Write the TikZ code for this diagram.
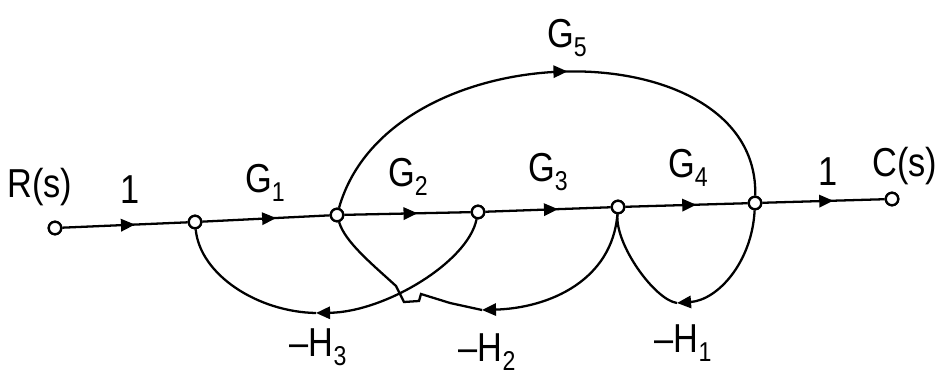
\documentclass[tikz,border=0pt]{standalone}
\usepackage{fontspec}
\setmainfont{Liberation Sans}
\usetikzlibrary{arrows.meta,decorations.markings}
\newcommand{\sbs}[1]{\raisebox{-5pt}{\fontsize{15.5}{16}\selectfont #1}}
\tikzset{
  sfnode/.style={circle,draw,line width=1.3pt,fill=white,inner sep=0pt,minimum size=0.25cm},
  lbl/.style={font=\fontsize{23}{26}\selectfont, xscale=0.85, inner sep=0pt},
  br/.style={line width=1.3pt},
  midarr/.style={br, postaction={decorate}, decoration={markings, mark=at position #1 with {\arrow{Triangle[length=8pt,width=7pt]}}}},
  midarr/.default=0.58,
  endarr/.style={br, -{Triangle[length=8pt,width=7pt]}},
}
\begin{document}
\begin{tikzpicture}[x=0.02cm,y=-0.02cm]
\useasboundingbox (0,0) rectangle (936,385);
% nodes
\node[sfnode] (r)  at (55,228) {};
\node[sfnode] (n2) at (195,222) {};
\node[sfnode] (n3) at (337,215) {};
\node[sfnode] (n4) at (478,212) {};
\node[sfnode] (n5) at (618,207) {};
\node[sfnode] (n6) at (755,203) {};
\node[sfnode] (c)  at (892,199) {};
% helper coordinates
\coordinate (a1) at (677,303);
\coordinate (a2) at (482,310);
\coordinate (a3) at (316,313);
\coordinate (h1) at (450,303);
\coordinate (h2) at (421,294);
\coordinate (h3) at (419,301);
\coordinate (h4) at (404,302);
\coordinate (h5) at (396,286);
% forward branches
\draw[midarr] (r) -- (n2);
\draw[midarr] (n2) -- (n3);
\draw[midarr] (n3) -- (n4);
\draw[midarr] (n4) -- (n5);
\draw[midarr] (n5) -- (n6);
\draw[midarr] (n6) -- (c);
% G5
\draw[midarr=0.53] (n3) .. controls (390,28) and (760,28) .. (n6);
% H1
\draw[endarr] (n6) .. controls (752,262) and (718,300) .. (a1);
\draw[br] (a1) .. controls (655,300) and (615,245) .. (n5);
% H3
\draw[endarr] (n4) .. controls (468,262) and (385,312) .. (a3);
\draw[br] (a3) .. controls (258,312) and (200,275) .. (n2);
% H2
\draw[endarr] (n5) .. controls (612,280) and (550,308) .. (a2);
\draw[br] (a2) -- (h1) -- (h2) -- (h3) -- (h4) -- (h5) .. controls (372,264) and (345,242) .. (n3);
% redraw nodes on top
\foreach \n in {r,n2,n3,n4,n5,n6,c} \node[sfnode] at (\n) {};
% labels
\node[lbl] (lr)  at (40,187) {R(s)};
\node[lbl] (l1)  at (130,190) {1};
\node[lbl] (lg1) at (265,183) {G\sbs{1}};
\node[lbl] (lg2) at (408,177) {G\sbs{2}};
\node[lbl] (lg3) at (548,172) {G\sbs{3}};
\node[lbl] (lg4) at (688,168) {G\sbs{4}};
\node[lbl] (l2)  at (828,172) {1};
\node[lbl] (lc)  at (905,166) {C(s)};
\node[lbl] (lg5) at (567,38) {G\sbs{5}};
\node[lbl] (lh3) at (318,347) {–H\sbs{3}};
\node[lbl] (lh2) at (487,352) {–H\sbs{2}};
\node[lbl] (lh1) at (683,343) {–H\sbs{1}};
\end{tikzpicture}
\end{document}
